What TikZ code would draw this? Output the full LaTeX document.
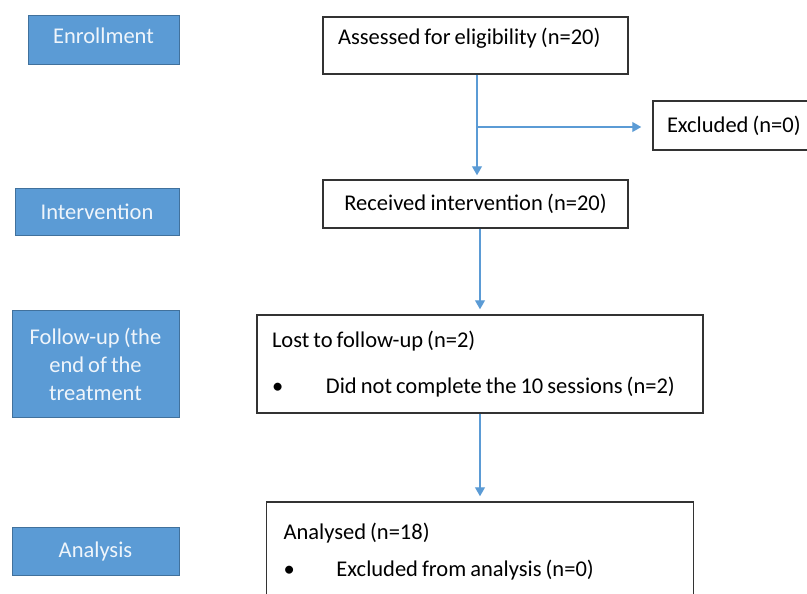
\documentclass[tikz,border=0pt]{standalone}
\usepackage{fontspec}
\setmainfont{Carlito}[WordSpace=0.8]
\usetikzlibrary{arrows.meta,positioning,calc}
\definecolor{stblue}{RGB}{91,155,213}
\definecolor{stedge}{RGB}{65,113,156}
\tikzset{st/.style={draw=stedge,fill=stblue,text=white!90!stblue,line width=1pt,align=center,inner sep=0pt},
 bx/.style={draw=black!80,line width=1.5pt,fill=white,inner xsep=15pt,inner ysep=0pt,
  execute at begin node={\spaceskip=0pt\xspaceskip=0pt\relax}},
 flow/.style={-{Triangle[width=10pt,length=9pt]},draw=stblue,line width=1.3pt}}

\begin{document}
\begin{tikzpicture}[x=1pt,y=-1pt,font=\fontsize{22.5}{28}\selectfont]
\useasboundingbox (0,0) rectangle (807,594);
% stages on the left
\node[st,minimum width=151pt,minimum height=49pt,text depth=9pt](enr) at (103.5,40.5){Enrollment};
\node[st,minimum width=164pt,minimum height=47pt](inv) at (97,211.5){Intervention};
\node[st,minimum width=167pt,minimum height=107pt](fol) at (95.5,364){Follow-up (the\\end of the\\treatment};
\node[st,minimum width=167pt,minimum height=48pt](anl) at (95.5,551){Analysis};
% flow boxes
\node[bx,text width=275pt,align=left,text height=14pt,text depth=15pt,minimum height=57pt](asm) at (475.5,45.5){Assessed for eligibility (n=20)};
\node[bx,inner xsep=14pt,text width=160pt,align=left,minimum height=49pt](exc) at (747,125.5){Excluded (n=0)};
\node[bx,text width=275pt,align=center,minimum height=48pt](rcv) at (475.5,204){Received intervention (n=20)};
\node[bx,text width=416pt,align=left,minimum height=98pt](lost) at (480,364){Lost to follow-up (n=2)\\[18pt]\makebox[54pt][l]{\textbullet}Did not complete the 10 sessions (n=2)};
\node[bx,inner xsep=17pt,text width=393pt,align=left,text depth=50pt,minimum height=108pt](ana) at (480,556){Analysed (n=18)\\[9pt]\makebox[53pt][l]{\textbullet}Excluded from analysis (n=0)};
% arrows
\coordinate (br) at ($(asm.south)!.5!(rcv.north)+(1.5,0)$);
\draw[flow,shorten >=4pt] (asm.south -| br) -- (rcv.north -| br);
\draw[flow,shorten >=11pt] (br) -- (br -| exc.west);
\draw[flow,shorten >=5pt] (rcv.south -| lost.north) -- (lost);
\draw[flow,shorten >=5pt] (lost) -- (ana);
\end{tikzpicture}
\end{document}
